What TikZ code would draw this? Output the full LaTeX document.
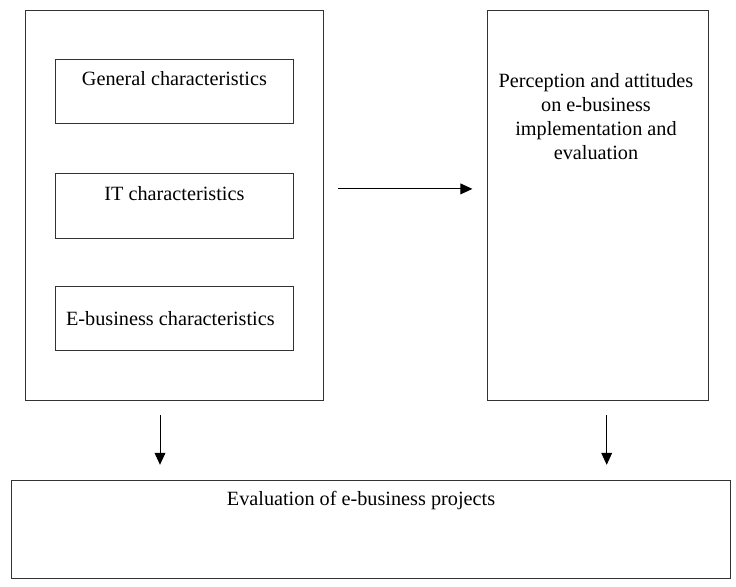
\documentclass[tikz,border=0pt]{standalone}
\usepackage{fontspec}
\setmainfont{Liberation Serif}
\usetikzlibrary{arrows.meta,positioning,calc}

\begin{document}
\begin{tikzpicture}[x=0.025cm,y=-0.025cm,every node/.style={outer sep=0pt,inner sep=0pt,font=\fontsize{14.4pt}{16.9pt}\selectfont}]

\tikzstyle{box}=[draw=black!80,line width=0.7pt,rectangle]
\tikzstyle{inbox}=[box,minimum width=5.95cm,minimum height=1.62cm]
\tikzstyle{arr}=[line width=0.7pt,-{Triangle[length=0.3cm,width=0.27cm]}]

\useasboundingbox (0,0) rectangle (736,586);

% firm characteristics
\node (firm) at (174.6,205.25) [box,minimum width=7.46cm,minimum height=9.74cm] {};
\node (gen) at (174.4,91.4) [inbox] {};
\node (it) at (174.4,205.6) [inbox] {};
\node (ebus) at (174.4,318.5) [inbox] {};
\node (gentxt) at ($(gen.north)+(0,20)$) {General characteristics};
\node (ittxt) at ($(it.north)+(0,20)$) {IT characteristics};
\node (ebustxt) at ($(ebus.center)+(-4,0)$) {E-business characteristics};

% perception box
\node (perc) at (597.8,205.25) [box,minimum width=5.51cm,minimum height=9.74cm] {};
\node (perctxt) at (596,116.7) [align=center] {Perception and attitudes\\on e-business\\implementation and\\evaluation};

% evaluation box
\node (eval) at (371,529.5) [box,minimum width=17.99cm,minimum height=2.43cm] {};
\node (evaltxt) at ($(eval.north)+(-10,20)$) {Evaluation of e-business projects};

\coordinate (h1) at (338,188.9);
\coordinate (h2) at (472.4,188.9);
\coordinate (l1) at (160,415);
\coordinate (l2) at (160,464.8);
\coordinate (r1) at (606.7,415);
\coordinate (r2) at (606.7,464.8);
\draw [arr] (h1) -- (h2);
\draw [arr] (l1) -- (l2);
\draw [arr] (r1) -- (r2);

\end{tikzpicture}
\end{document}
